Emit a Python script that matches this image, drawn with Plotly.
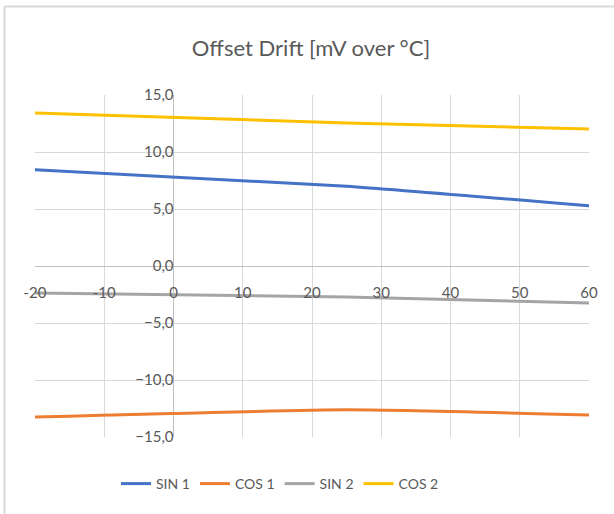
import plotly.graph_objects as go

temps = [-20, 25, 60]
sin1 = [8.45, 7.0, 5.28]
cos1 = [-13.25, -12.62, -13.07]
sin2 = [-2.37, -2.72, -3.25]
cos2 = [13.42, 12.55, 12.02]

series_names = ["SIN 1", "COS 1", "SIN 2", "COS 2"]
series_vals = [sin1, cos1, sin2, cos2]
colors = ["#4472C4", "#ED7D31", "#A5A5A5", "#FFC000"]

x_ticks = [-20, -10, 0, 10, 20, 30, 40, 50, 60]
y_ticks = [-15, -10, -5, 0, 5, 10, 15]

W, H = 614, 514
L, R, T, B = 35, 25, 95, 77
pw, ph = W - L - R, H - T - B

fig = go.Figure()
for name, vals, c in zip(series_names, series_vals, colors):
    fig.add_trace(go.Scatter(x=temps, y=vals, name=name, mode="lines",
                             line=dict(color=c, width=3, shape="spline", smoothing=0.5)))

font_fam = "Lato, Open Sans, sans-serif"
txt = "#595959"

def px2x(px):
    return (px - L) / pw

def py2y(py):
    return (H - B - py) / ph

fig.update_layout(
    width=W, height=H,
    margin=dict(l=L, r=R, t=T, b=B),
    paper_bgcolor="white", plot_bgcolor="white",
    separators=",.",
    title=dict(text="Offset Drift [mV over °C]", x=px2x(311), xref="paper", xanchor="center",
               y=1 - 48 / H, yanchor="middle",
               font=dict(family=font_fam, size=22, color=txt)),
    font=dict(family=font_fam, color=txt, size=15),
    showlegend=True,
    legend=dict(orientation="h", x=px2x(116), xanchor="left", y=py2y(484), yanchor="middle",
                font=dict(family=font_fam, size=14, color=txt), itemwidth=30,
                bgcolor="rgba(0,0,0,0)"),
    xaxis=dict(range=[-20, 60], tickvals=x_ticks, ticktext=[str(v) for v in x_ticks],
               showgrid=True, gridcolor="#D9D9D9", gridwidth=1,
               zeroline=True, zerolinecolor="#BFBFBF", zerolinewidth=1,
               showline=False, anchor="free", position=0.5, ticks="",
               ticklabelstandoff=16,
               tickfont=dict(family=font_fam, size=15, color=txt), fixedrange=True),
    yaxis=dict(range=[-15, 15], tickvals=y_ticks, tickformat=".1f",
               showgrid=True, gridcolor="#D9D9D9", gridwidth=1,
               zeroline=True, zerolinecolor="#BFBFBF", zerolinewidth=1,
               showline=False, anchor="free", position=0.25, ticks="",
               tickfont=dict(family=font_fam, size=15, color=txt), fixedrange=True),
    shapes=[
        dict(type="line", xref="paper", yref="paper", x0=px2x(4.5), x1=px2x(614), y0=py2y(6.5), y1=py2y(6.5),
             line=dict(color="#D9D9D9", width=2)),
        dict(type="line", xref="paper", yref="paper", x0=px2x(4.5), x1=px2x(4.5), y0=py2y(6.5), y1=py2y(514),
             line=dict(color="#D9D9D9", width=2)),
    ],
)

fig.write_html("out.html", config={"displayModeBar": False},
               post_script="document.body.style.margin='0';document.body.style.overflow='hidden';")
